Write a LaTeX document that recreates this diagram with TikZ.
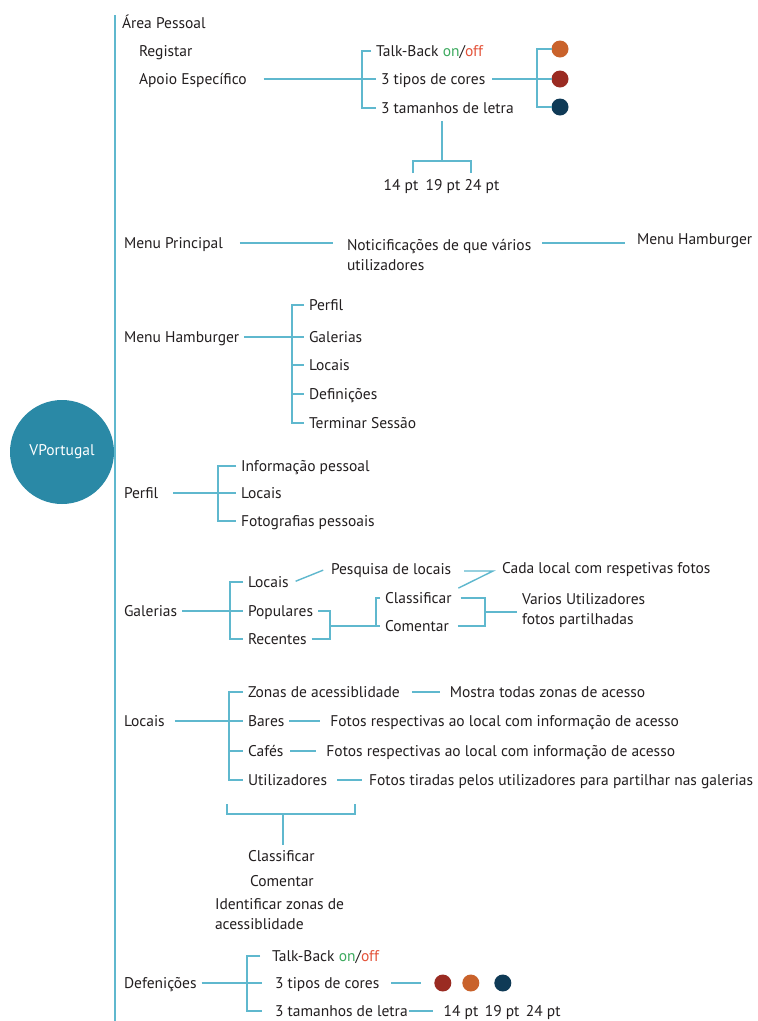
\documentclass[tikz,border=0pt]{standalone}
\usepackage{fontspec}
\setmainfont{PT Sans}
\usetikzlibrary{positioning}
\definecolor{lnc}{HTML}{5FB8CE}
\definecolor{circc}{HTML}{2A89A6}
\definecolor{txc}{HTML}{231F20}
\definecolor{ongreen}{HTML}{3DAA5F}
\definecolor{offred}{HTML}{E4533A}
\definecolor{dotor}{HTML}{C9622B}
\definecolor{dotrd}{HTML}{9A2B22}
\definecolor{dotnv}{HTML}{0F3A56}
\begin{document}
\begin{tikzpicture}[x=1pt,y=-1pt,
  tx/.style={anchor=west,inner xsep=0pt,inner ysep=2pt,outer xsep=5pt,outer ysep=0pt,
    font=\fontsize{15.5}{20}\selectfont,text=txc,text height=15pt,text depth=3.5pt},
  txm/.style={anchor=west,inner xsep=0pt,inner ysep=2pt,outer xsep=5pt,outer ysep=0pt,
    font=\fontsize{15.5}{20}\selectfont,text=txc,align=left},
  ptl/.style={tx,anchor=center,outer xsep=0pt},
  ln/.style={draw=lnc,line width=1.4pt},
  mainln/.style={draw=lnc,line width=2pt},
  dotnode/.style={circle,inner sep=0pt,minimum size=17pt,outer sep=0pt}]
\useasboundingbox (0,-1) rectangle (758,1020);
\fill[white] (0,-1) rectangle (758,1020);
% main axis
\coordinate (mtop) at (115,14);
\coordinate (mbot) at (115,1020);
\draw[mainln] (mtop) -- (mbot);
\node[circle,fill=circc,minimum size=104pt,inner sep=0pt,text=white,font=\fontsize{15.5}{20}\selectfont] (vp) at (62,451) {VPortugal};

% Area pessoal
\node[tx] (ap) at (117,22) {Área Pessoal};
\node[tx] (reg) at (134,50) {Registar};
\node[tx] (apo) at (134,78) {Apoio Específico};
\node[tx] (tb) at (371,50) {Talk-Back \textcolor{ongreen}{on}/\textcolor{offred}{off}};
\node[tx] (tc) at (376,78) {3 tipos de cores};
\node[tx] (tl) at (376,107) {3 tamanhos de letra};
\node[dotnode,fill=dotor] (d1) at (560,48) {};
\node[dotnode,fill=dotrd] (d2) at (560,78) {};
\node[dotnode,fill=dotnv] (d3) at (560,106) {};
\coordinate (b1) at (362,78);
\draw[ln,shorten <=12pt] (apo.east) -- (b1);
\draw[ln] (tb.west) -| (b1) |- (tl.west);
\draw[ln] (b1) -- (tc.west);
\coordinate (b2) at (537,78);
\draw[ln,shorten <=2pt] (tc.east) -- (b2);
\draw[ln] (d1.west) -| (b2) |- (d3.west);
\draw[ln] (b2) -- (d2.west);
\coordinate (pj) at (442,160);
\coordinate (pl) at (413,172);
\coordinate (pr) at (471,172);
\draw[ln,shorten <=2pt] (pj |- tl.south) -- (pj);
\draw[ln] (pl) |- (pj) -| (pr);
\node[ptl] (p14) at (401,184) {14 pt};
\node[ptl] (p19) at (443,184) {19 pt};
\node[ptl] (p24) at (482,184) {24 pt};

% Menu principal
\node[tx] (mp) at (119,242) {Menu Principal};
\node[txm] (nt) at (342,254) {Noticificações de que vários\\utilizadores};
\node[tx] (mh0) at (632,238) {Menu Hamburger};
\draw[ln,shorten <=12pt,shorten >=9pt] (mp.east) -- (mp.east -| nt.west);
\draw[ln,shorten <=6pt,shorten >=7pt] (nt.east |- mp.east) -- (mh0.west |- mp.east);

% Menu hamburger
\node[tx] (mh) at (119,336) {Menu Hamburger};
\coordinate (b3) at (292,336);
\node[tx] (pf) at (304,304) {Perfil};
\node[tx] (gl) at (304,336) {Galerias};
\node[tx] (lc) at (304,364) {Locais};
\node[tx] (df) at (304,393) {Definições};
\node[tx] (ts) at (304,422) {Terminar Sessão};
\draw[ln] (mh.east) -- (b3);
\draw[ln] (pf.west) -| (b3) |- (ts.west);
\draw[ln] (b3) -- (gl.west);
\draw[ln] (b3 |- lc.west) -- (lc.west);
\draw[ln] (b3 |- df.west) -- (df.west);

% Perfil
\node[tx] (pr) at (119,492) {Perfil};
\coordinate (b4) at (218,492);
\draw[ln,shorten <=10pt] (pr.east) -- (b4);
\node[tx] (ip) at (236,465) {Informação pessoal};
\node[tx] (plo) at (236,492) {Locais};
\node[tx] (fp) at (236,520) {Fotografias pessoais};
\draw[ln] (ip.west) -| (b4) |- (fp.west);
\draw[ln] (b4) -- (plo.west);

% Galerias
\node[tx] (ga) at (119,610) {Galerias};
\coordinate (b5) at (230,610);
\draw[ln] (ga.east) -- (b5);
\node[tx] (glo) at (243,581) {Locais};
\node[tx] (po) at (243,610) {Populares};
\node[tx] (re) at (243,638) {Recentes};
\draw[ln] (glo.west) -| (b5) |- (re.west);
\draw[ln] (b5) -- (po.west);
\node[tx] (pq) at (326,568) {Pesquisa de locais};
\draw[ln,shorten <=2pt,shorten >=3pt] (glo.east) -- (pq.west);
\node[tx] (cd) at (497,567) {Cada local com respetivas fotos};
\node[tx] (cl) at (380,597) {Classificar};
\node[tx] (cm) at (380,625) {Comentar};
\coordinate (v) at (493,570);
\draw[ln,shorten <=8pt,shorten >=2pt] (pq.east |- v) -- (v) -- (cl.east |- 0,588);
\coordinate (j5) at (330,625);
\draw[ln] (po.east) -| (j5);
\draw[ln] (re.east) -| (j5);
\draw[ln] (j5) -- (cm.west);
\coordinate (b6) at (376,625);
\draw[ln] (cl.west) -| (b6);
\coordinate (b7) at (485,611);
\draw[ln,shorten <=4pt] (cl.east) -| (b7);
\draw[ln,shorten <=4pt] (cm.east) -| (b7);
\node[txm] (vu) at (517,610) {Varios Utilizadores\\fotos partilhadas};
\draw[ln] (b7) -- (b7 -| vu.west);

% Locais
\node[tx] (lo) at (119,720) {Locais};
\coordinate (b8) at (229,720);
\draw[ln,shorten <=5pt] (lo.east) -- (b8);
\node[tx] (zn) at (243,691) {Zonas de acessiblidade};
\node[tx] (ba) at (243,720) {Bares};
\node[tx] (caf) at (243,750) {Cafés};
\node[tx] (ut) at (243,779) {Utilizadores};
\draw[ln] (zn.west) -| (b8) |- (ut.west);
\draw[ln] (b8) -- (ba.west);
\draw[ln] (b8 |- caf.west) -- (caf.west);
\node[tx,right=40pt of zn] (mo) {Mostra todas zonas de acesso};
\node[tx,right=36pt of ba] (fb) {Fotos respectivas ao local com informação de acesso};
\node[tx,right=33pt of caf] (fc) {Fotos respectivas ao local com informação de acesso};
\node[tx,right=32pt of ut] (ft) {Fotos tiradas pelos utilizadores para partilhar nas galerias};
\draw[ln,shorten <=7pt,shorten >=5pt] (zn.east) -- (mo.west);
\draw[ln,shorten >=5pt] (ba.east) -- (fb.west);
\draw[ln,shorten <=2pt,shorten >=5pt] (caf.east) -- (fc.west);
\draw[ln,shorten <=5pt,shorten >=2pt] (ut.east) -- (ft.west);
\coordinate (bl) at (227,803);
\coordinate (bm) at (283,813);
\coordinate (br) at (355,803);
\draw[ln] (bl) |- (bm) -| (br);
\node[tx] (cls) at (243,855) {Classificar};
\draw[ln] (bm) -- (bm |- cls.north);
\node[tx] (cmt) at (245,880) {Comentar};
\node[txm] (idz) at (210,913) {Identificar zonas de\\acessiblidade};

% Defenicoes
\node[tx] (de) at (119,982) {Defenições};
\coordinate (b9) at (247,982);
\draw[ln] (de.east) -- (b9);
\node[tx] (tb2) at (267,955) {Talk-Back \textcolor{ongreen}{on}/\textcolor{offred}{off}};
\node[tx] (tc2) at (270,982) {3 tipos de cores};
\node[tx] (tl2) at (270,1010) {3 tamanhos de letra};
\draw[ln,shorten <=7pt,shorten >=8pt] (tb2.west) -| (b9) |- (tl2.west);
\draw[ln,shorten >=8pt] (b9) -- (tc2.west);
\node[dotnode,fill=dotrd,right=50pt of tc2] (e1) {};
\node[dotnode,fill=dotor,right=11pt of e1] (e2) {};
\node[dotnode,fill=dotnv,right=15pt of e2] (e3) {};
\draw[ln,shorten <=7pt,shorten >=13pt] (tc2.east) -- (e1.west);
\node[tx,right=26pt of tl2] (pts2) {14 pt\hspace{0.15em} 19 pt\hspace{0.15em} 24 pt};
\draw[ln,shorten <=-4pt,shorten >=6pt] (tl2.east) -- (pts2.west);
\end{tikzpicture}
\end{document}
